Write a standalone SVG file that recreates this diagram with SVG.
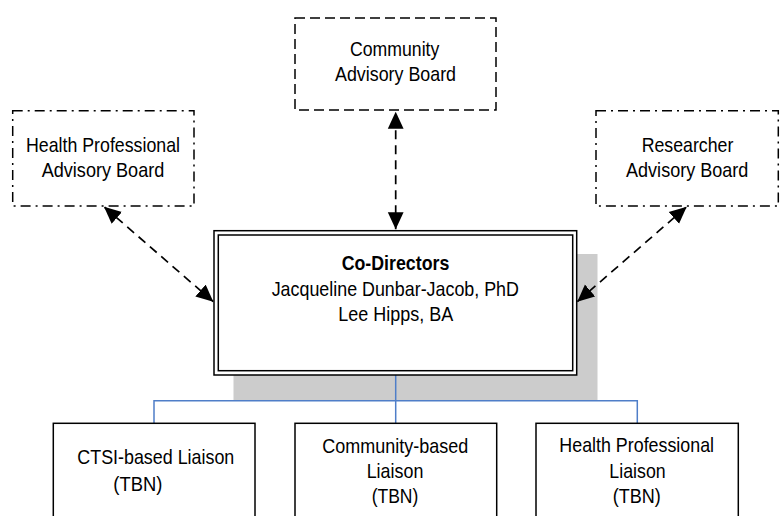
<svg xmlns="http://www.w3.org/2000/svg" width="783" height="516" viewBox="0 0 783 516">
<style>
text{font-family:"Liberation Sans Narrow","Liberation Sans",Arial,sans-serif;font-size:21px;fill:#000;}
.b{font-weight:bold;}
.dash{fill:#fff;stroke:#000;stroke-width:1.5;stroke-dasharray:10 5;}
.dd{fill:#fff;stroke:#000;stroke-width:1.5;stroke-dasharray:10 5 2 5;}
.solid{fill:#fff;stroke:#000;stroke-width:1.5;}
.conn{fill:none;stroke:#000;stroke-width:1.7;stroke-dasharray:9 6;marker-start:url(#ah);marker-end:url(#ah);}
.blue{fill:none;stroke:#4F7EC8;stroke-width:1.5;}
</style>
<defs>
<marker id="ah" markerUnits="userSpaceOnUse" markerWidth="17" markerHeight="17" viewBox="0 0 14 14" refX="14" refY="7" orient="auto-start-reverse">
<path d="M0,0.5 L14,7 L0,13.5 Z" fill="#000"/>
</marker>
</defs>
<rect width="783" height="516" fill="#fff"/>

<g id="shadow"><rect x="233.5" y="254" width="364" height="146" fill="#CCCCCC"/></g>

<g id="connectors">
<path class="conn" d="M395.7,229.3 L395.7,111.7"/>
<path class="conn" d="M213.3,301.7 L104,206.7"/>
<path class="conn" d="M577.3,301.7 L686.7,206.7"/>
<path class="blue" d="M395.7,375 L395.7,423.3 M154,423.3 L154,400.7 L637.3,400.7 L637.3,423.3"/>
</g>

<g id="community-board">
<rect class="dash" x="295" y="18" width="201" height="92"/>
<text x="394.7" y="56.2" text-anchor="middle" textLength="89.3" lengthAdjust="spacingAndGlyphs">Community</text>
<text x="395.5" y="81.2" text-anchor="middle" textLength="121" lengthAdjust="spacingAndGlyphs">Advisory Board</text>
</g>

<g id="health-board">
<rect class="dd" x="12.7" y="110.7" width="181.3" height="95.3"/>
<text x="103" y="151.7" text-anchor="middle" textLength="154" lengthAdjust="spacingAndGlyphs">Health Professional</text>
<text x="103" y="177.3" text-anchor="middle" textLength="122.7" lengthAdjust="spacingAndGlyphs">Advisory Board</text>
</g>

<g id="researcher-board">
<rect class="dd" x="596" y="110.7" width="182.3" height="95.3"/>
<text x="687.5" y="151.7" text-anchor="middle" textLength="91.7" lengthAdjust="spacingAndGlyphs">Researcher</text>
<text x="687.2" y="177.3" text-anchor="middle" textLength="122.3" lengthAdjust="spacingAndGlyphs">Advisory Board</text>
</g>

<g id="co-directors">
<rect class="solid" x="214" y="230.7" width="362.7" height="144.3"/>
<rect class="solid" x="218.3" y="235" width="354.4" height="135.7"/>
<text class="b" x="395.5" y="270" text-anchor="middle" textLength="107.7" lengthAdjust="spacingAndGlyphs">Co-Directors</text>
<text x="395.3" y="296" text-anchor="middle" textLength="247.3" lengthAdjust="spacingAndGlyphs">Jacqueline Dunbar-Jacob, PhD</text>
<text x="395.8" y="320.7" text-anchor="middle" textLength="115" lengthAdjust="spacingAndGlyphs">Lee Hipps, BA</text>
</g>

<g id="ctsi-liaison">
<rect class="solid" x="53.3" y="423.3" width="201.7" height="110"/>
<text x="77.3" y="464.3" textLength="157" lengthAdjust="spacingAndGlyphs">CTSI-based Liaison</text>
<text x="113.3" y="491" textLength="49" lengthAdjust="spacingAndGlyphs">(TBN)</text>
</g>

<g id="community-liaison">
<rect class="solid" x="295" y="423.3" width="201.7" height="110"/>
<text x="395.3" y="452.7" text-anchor="middle" textLength="146" lengthAdjust="spacingAndGlyphs">Community-based</text>
<text x="395" y="477.7" text-anchor="middle" textLength="56.7" lengthAdjust="spacingAndGlyphs">Liaison</text>
<text x="395" y="503.3" text-anchor="middle" textLength="46.7" lengthAdjust="spacingAndGlyphs">(TBN)</text>
</g>

<g id="health-liaison">
<rect class="solid" x="536" y="423.3" width="202.3" height="110"/>
<text x="636.7" y="451.5" text-anchor="middle" textLength="154.7" lengthAdjust="spacingAndGlyphs">Health Professional</text>
<text x="637.5" y="477.7" text-anchor="middle" textLength="56.3" lengthAdjust="spacingAndGlyphs">Liaison</text>
<text x="636.7" y="503.3" text-anchor="middle" textLength="48" lengthAdjust="spacingAndGlyphs">(TBN)</text>
</g>
</svg>
